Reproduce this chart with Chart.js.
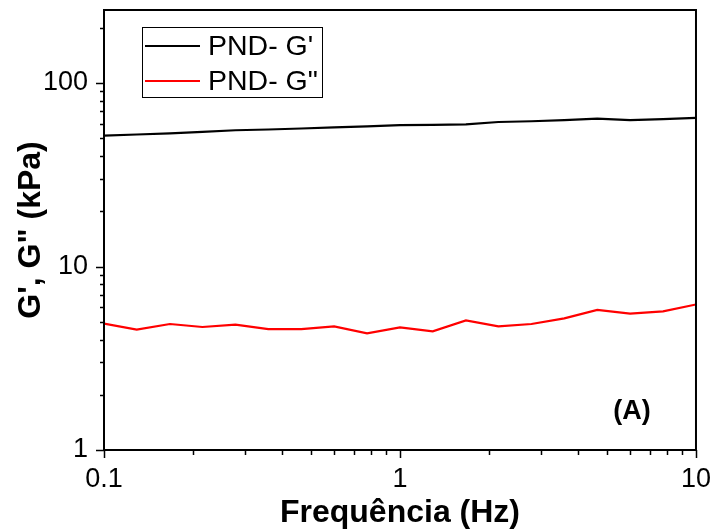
<!DOCTYPE html>
<html>
<head>
<meta charset="utf-8">
<script src="https://cdn.jsdelivr.net/npm/chart.js@4"></script>
<style>
  body { margin: 0; background: #fff; }
  canvas { display: block; }
</style>
</head>
<body>
<canvas id="chart" width="716" height="529"></canvas>
<script>
// Frequency sweep (Hz) and moduli (kPa)
const freq = [0.1, 0.129, 0.167, 0.215, 0.278, 0.359, 0.464, 0.599, 0.774, 1,
              1.29, 1.67, 2.15, 2.78, 3.59, 4.64, 5.99, 7.74, 10];
const gPrime = [51.7, 52.4, 53.2, 54.2, 55.3, 55.8, 56.5, 57.3, 58.1, 58.9,
                59.2, 59.5, 61.3, 61.9, 62.7, 63.9, 62.7, 63.6, 64.5];
const gDouble = [4.89, 4.53, 4.86, 4.68, 4.82, 4.56, 4.56, 4.72, 4.32, 4.66,
                 4.43, 5.08, 4.72, 4.86, 5.22, 5.80, 5.54, 5.70, 6.21];
const seriesLabels = ["PND- G'", 'PND- G"'];
const xTickLabels = ['0.1', '1', '10'];
const yTickLabels = ['1', '10', '100'];
const panelLabel = '(A)';

const FONT = 'Liberation Sans, Arial, sans-serif';

function isDecade(v) {
  const l = Math.log10(v);
  return Math.abs(l - Math.round(l)) < 1e-9;
}
function isGridValue(v) {
  const l = Math.log10(v);
  const m = v / Math.pow(10, Math.floor(l + 1e-9));
  return Math.abs(m - Math.round(m)) < 1e-6;
}

// axis box, tick marks, legend and panel label
const decor = {
  id: 'decor',
  afterDraw(chart) {
    const ctx = chart.ctx;
    const a = chart.chartArea;
    const xs = chart.scales.x, ys = chart.scales.y;
    ctx.save();
    ctx.strokeStyle = '#000';
    ctx.lineWidth = 2;
    ctx.strokeRect(a.left, a.top, a.right - a.left, a.bottom - a.top);

    ctx.lineWidth = 1.5;
    ctx.beginPath();
    xs.ticks.forEach(t => {
      if (!isGridValue(t.value)) return;
      const px = Math.round(xs.getPixelForValue(t.value)) + 0.5;
      const len = isDecade(t.value) ? 8 : 5;
      ctx.moveTo(px, a.bottom); ctx.lineTo(px, a.bottom + len);
    });
    ys.ticks.forEach(t => {
      if (!isGridValue(t.value)) return;
      const py = Math.round(ys.getPixelForValue(t.value)) + 0.5;
      const len = isDecade(t.value) ? 8 : 4;
      ctx.moveTo(a.left, py); ctx.lineTo(a.left - len, py);
    });
    ctx.stroke();

    // legend
    ctx.lineWidth = 1;
    ctx.strokeRect(142.5, 27.5, 180, 70);
    ctx.font = '28.5px ' + FONT;
    ctx.textBaseline = 'middle';
    ctx.fillStyle = '#000';
    chart.data.datasets.forEach((ds, i) => {
      const y = 46 + i * 35;
      ctx.strokeStyle = ds.borderColor;
      ctx.lineWidth = 2;
      ctx.beginPath(); ctx.moveTo(145, y); ctx.lineTo(200, y); ctx.stroke();
      ctx.fillText(ds.label, 208, y + 1);
    });

    ctx.font = 'bold 27px ' + FONT;
    ctx.textAlign = 'center';
    ctx.fillText(panelLabel, 632, 412);
    ctx.restore();
  }
};

new Chart(document.getElementById('chart'), {
  type: 'line',
  data: {
    datasets: [
      { label: seriesLabels[0], data: freq.map((f, i) => ({ x: f, y: gPrime[i] })),
        borderColor: '#000', borderWidth: 2.2, pointRadius: 0, tension: 0 },
      { label: seriesLabels[1], data: freq.map((f, i) => ({ x: f, y: gDouble[i] })),
        borderColor: '#ff0000', borderWidth: 2.2, pointRadius: 0, tension: 0 }
    ]
  },
  options: {
    responsive: false,
    animation: false,
    layout: { padding: { top: 10, right: 18, left: 0, bottom: 0 } },
    plugins: { legend: { display: false }, tooltip: { enabled: false } },
    scales: {
      x: {
        type: 'logarithmic', min: 0.1, max: 10,
        border: { display: false },
        grid: { display: true, drawOnChartArea: false, drawTicks: true, tickLength: 8, color: 'rgba(0,0,0,0)' },
        ticks: {
          autoSkip: false, maxRotation: 0, padding: 5, color: '#000',
          font: { family: FONT, size: 27 },
          callback: v => { const s = String(+v.toPrecision(3)); return xTickLabels.includes(s) ? s : ''; }
        },
        title: { display: true, text: 'Frequência (Hz)', color: '#000',
                 font: { family: FONT, size: 32, weight: 'bold', lineHeight: 1 }, padding: { top: 0, bottom: 0 } },
        afterFit: s => { s.height = 79; }
      },
      y: {
        type: 'logarithmic', min: 1, max: 250,
        border: { display: false },
        grid: { display: true, drawOnChartArea: false, drawTicks: true, tickLength: 8, color: 'rgba(0,0,0,0)' },
        ticks: {
          autoSkip: false, padding: 8, color: '#000',
          font: { family: FONT, size: 27 },
          callback: v => { const s = String(+v.toPrecision(3)); return yTickLabels.includes(s) ? s : ''; }
        },
        title: { display: true, text: 'G\', G" (kPa)', color: '#000',
                 font: { family: FONT, size: 32, weight: 'bold', lineHeight: 1 }, padding: { top: 15, bottom: 0 } },
        afterFit: s => { s.width = 104; s.paddingTop = 0; s.paddingBottom = 0; }
      }
    }
  },
  plugins: [decor]
});
</script>
</body>
</html>
